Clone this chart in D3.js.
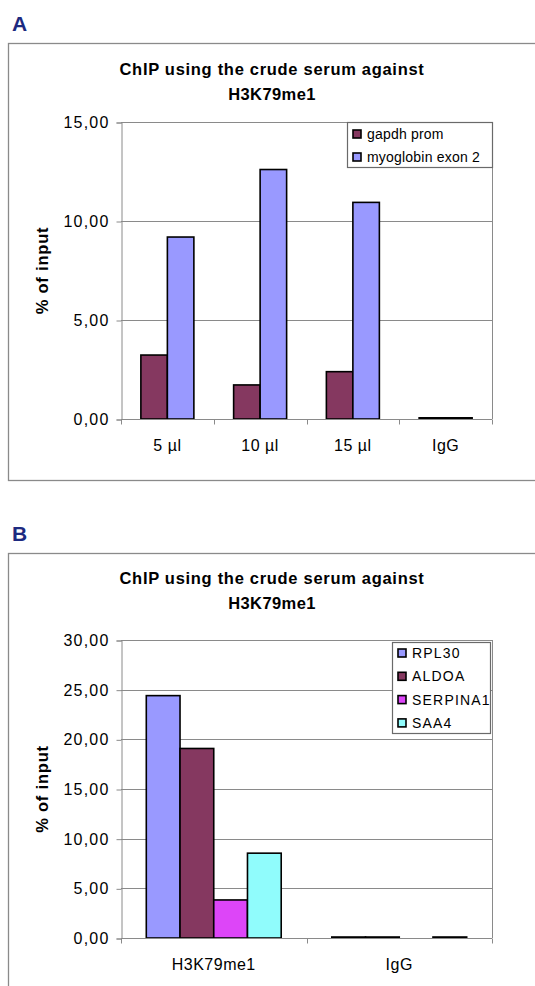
<!DOCTYPE html>
<html>
<head>
<meta charset="utf-8">
<script src="https://cdn.jsdelivr.net/npm/d3@7"></script>
<style>
  html, body { margin: 0; padding: 0; background: #fff; }
  svg { display: block; font-family: "Liberation Sans", Arial, sans-serif; }
</style>
</head>
<body>
<svg id="chart" width="535" height="986"></svg>
<script>
// ---------- Data ----------
const titleLines = ["ChIP using the crude serum against", "H3K79me1"];
const yAxisTitle = "% of input";

// Panel A
const aCategories = ["5 µl", "10 µl", "15 µl", "IgG"];
const aSeries = ["gapdh prom", "myoglobin exon 2"];
const aGapdh = [3.23, 1.72, 2.39, 0.06];
const aMyoglobin = [9.19, 12.6, 10.94, 0.06];
const aTicks = [0, 5, 10, 15];
const aColors = ["#853860", "#9999ff"];

// Panel B
const bCategories = ["H3K79me1", "IgG"];
const bSeries = ["RPL30", "ALDOA", "SERPINA1", "SAA4"];
const bRPL30 = [24.4, 0.1];
const bALDOA = [19.08, 0.1];
const bSERPINA1 = [3.83, 0.0];
const bSAA4 = [8.54, 0.1];
const bTicks = [0, 5, 10, 15, 20, 25, 30];
const bColors = ["#9999ff", "#853860", "#dd45f8", "#90fcfc"];

const svg = d3.select("#chart");
const fmt = d => d3.format(".2f")(d).replace(".", ",");

function drawPanel(cfg) {
  const g = svg.append("g");
  // panel letter
  g.append("text").attr("x", 12).attr("y", cfg.letterY)
    .attr("font-size", 21).attr("font-weight", "bold").attr("fill", "#1d2a80")
    .text(cfg.letter);
  // outer frame
  g.append("rect").attr("x", 8.5).attr("y", cfg.boxTop + 0.5)
    .attr("width", 540).attr("height", cfg.boxH)
    .attr("fill", "none").attr("stroke", "#8a8a8a").attr("stroke-width", 1.3);
  // title
  titleLines.forEach((t, i) => {
    g.append("text").attr("x", 272).attr("y", cfg.titleY + i * 25)
      .attr("text-anchor", "middle").attr("font-size", 16.5).attr("font-weight", "bold")
      .attr("letter-spacing", i === 0 ? 0.7 : 0.4).attr("fill", "#000").text(t);
  });

  const left = 121, right = 492, top = cfg.plotTop, bottom = cfg.plotBottom;
  const y = d3.scaleLinear().domain([0, d3.max(cfg.ticks)]).range([bottom, top]);
  const x0 = d3.scaleBand().domain(cfg.categories).range([left, right]).paddingInner(0).paddingOuter(0);
  const x1 = d3.scaleBand().domain(cfg.series).range([0, x0.bandwidth()]).paddingInner(0).paddingOuter(0.75);

  // gridlines
  g.append("g").selectAll("line").data(cfg.ticks.filter(t => t > 0)).join("line")
    .attr("x1", left).attr("x2", right)
    .attr("y1", d => Math.round(y(d)) + 0.5).attr("y2", d => Math.round(y(d)) + 0.5)
    .attr("stroke", "#8a8a8a").attr("stroke-width", 1);
  // right border
  g.append("line").attr("x1", right + 0.5).attr("x2", right + 0.5)
    .attr("y1", top).attr("y2", bottom).attr("stroke", "#8a8a8a");

  // bars
  cfg.series.forEach((s, si) => {
    g.append("g").selectAll("rect").data(cfg.values[si]).join("rect")
      .attr("x", (d, i) => x0(cfg.categories[i]) + x1(s))
      .attr("y", d => y(d))
      .attr("width", x1.bandwidth())
      .attr("height", d => Math.max(0, bottom - y(d)))
      .attr("fill", cfg.colors[si])
      .attr("stroke", "#000").attr("stroke-width", 1.6);
  });

  // y axis
  const yAxis = d3.axisLeft(y).tickValues(cfg.ticks).tickFormat(fmt).tickSize(5).tickPadding(7);
  const ya = g.append("g").attr("transform", `translate(${left + 0.5},0.5)`).call(yAxis);
  ya.select(".domain").attr("stroke", "#8a8a8a");
  ya.selectAll(".tick line").attr("stroke", "#8a8a8a");
  ya.selectAll(".tick text").attr("font-size", 16).attr("letter-spacing", 1.2)
    .attr("fill", "#000").attr("font-family", "Liberation Sans, Arial, sans-serif");
  ya.attr("font-family", null);

  // x axis
  const xa = g.append("g").attr("transform", `translate(0,${bottom + 0.5})`);
  xa.append("line").attr("x1", left).attr("x2", right).attr("stroke", "#8a8a8a");
  const bounds = cfg.categories.map(c => x0(c)).concat([x0.range()[1]]);
  xa.selectAll("line.tk").data(bounds).join("line").attr("class", "tk")
    .attr("x1", d => Math.round(d) + 0.5).attr("x2", d => Math.round(d) + 0.5)
    .attr("y1", 0).attr("y2", 5).attr("stroke", "#8a8a8a");
  xa.selectAll("text").data(cfg.categories).join("text")
    .attr("x", d => x0(d) + x0.bandwidth() / 2).attr("y", cfg.xLabelDy)
    .attr("text-anchor", "middle").attr("font-size", 16).attr("letter-spacing", 0.5)
    .attr("fill", "#000").text(d => d);

  // y title
  g.append("text")
    .attr("transform", `translate(48,${(top + bottom) / 2}) rotate(-90)`)
    .attr("text-anchor", "middle").attr("font-size", 16.5).attr("font-weight", "bold")
    .attr("letter-spacing", 0.8).attr("fill", "#000").text(yAxisTitle);

  // legend
  const L = cfg.legend;
  const lg = g.append("g").attr("transform", `translate(${L.x},${L.y})`);
  lg.append("rect").attr("x", 0.5).attr("y", 0.5).attr("width", L.w).attr("height", L.h)
    .attr("fill", "#fff").attr("stroke", "#6a6a6a").attr("stroke-width", 1.2);
  cfg.series.forEach((s, si) => {
    const cy = L.first + si * L.step;
    lg.append("rect").attr("x", L.sw).attr("y", cy - 4).attr("width", 8).attr("height", 8)
      .attr("fill", cfg.colors[si]).attr("stroke", "#000").attr("stroke-width", 1.6);
    lg.append("text").attr("x", L.sw + 14).attr("y", cy + 5)
      .attr("font-size", 14).attr("letter-spacing", L.ls).attr("fill", "#000").text(s);
  });
}

drawPanel({
  letter: "A", letterY: 31, boxTop: 43, boxH: 437, titleY: 75,
  plotTop: 122, plotBottom: 419, xLabelDy: 31,
  categories: aCategories, series: aSeries, values: [aGapdh, aMyoglobin],
  colors: aColors, ticks: aTicks,
  legend: { x: 347, y: 122, w: 145, h: 45, first: 12, step: 23, sw: 6, ls: 0.2 }
});

drawPanel({
  letter: "B", letterY: 541, boxTop: 553, boxH: 500, titleY: 584,
  plotTop: 640, plotBottom: 938, xLabelDy: 31,
  categories: bCategories, series: bSeries, values: [bRPL30, bALDOA, bSERPINA1, bSAA4],
  colors: bColors, ticks: bTicks,
  legend: { x: 392, y: 642, w: 98, h: 91, first: 11, step: 23.3, sw: 6, ls: 1.2 }
});
</script>
</body>
</html>
